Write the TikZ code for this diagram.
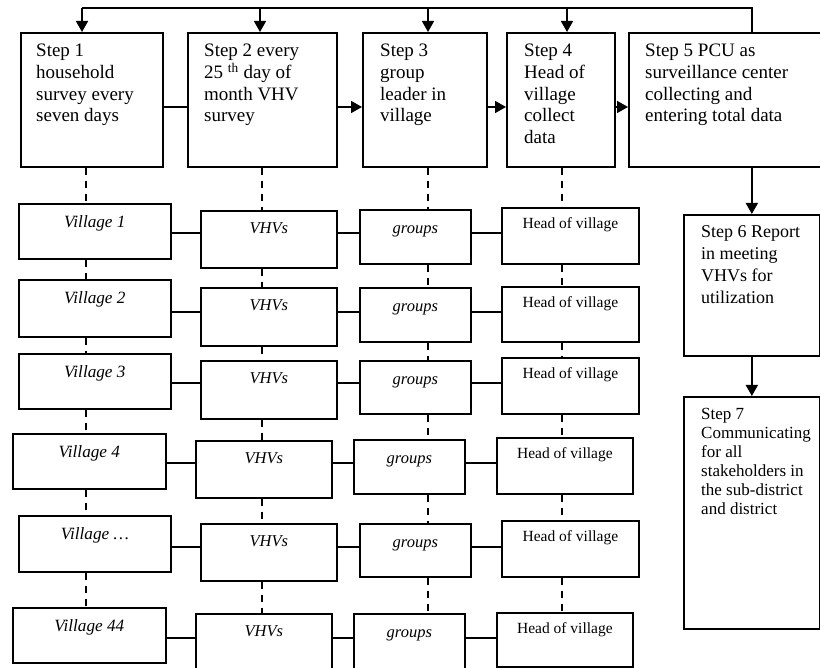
\documentclass[tikz,border=0pt]{standalone}
\usepackage{fontspec}
\setmainfont{Liberation Serif}
\usetikzlibrary{arrows.meta,calc}
\newcommand{\rowbox}[8]{%
  \pgfmathsetmacro{\rbW}{#4-#2}%
  \pgfmathsetmacro{\rbD}{#5-#3-#6}%
  \node[#7, anchor=north west, minimum width=\rbW pt, text height=#6pt, text depth=\rbD pt] (#1) at (#2,#3) {#8};}
\begin{document}
\begin{tikzpicture}[x=1pt,y=-1pt,
  box/.style={draw, line width=1.7pt, inner sep=0pt, rectangle},
  vlab/.style={box, font=\fontsize{16.5}{19}\selectfont\itshape},
  vilab/.style={box, font=\fontsize{17.2}{19}\selectfont\itshape},
  hlab/.style={box, font=\fontsize{15.5}{18}\selectfont},
  steptext/.style={inner sep=0pt, align=left, anchor=north west, font=\fontsize{19}{21.7}\selectfont},
  steptextb/.style={steptext, font=\fontsize{18}{22}\selectfont},
  steptextc/.style={steptext, font=\fontsize{17}{19}\selectfont},
  conn/.style={line width=1.7pt},
  arr/.style={conn, -{Triangle[length=11pt,width=12pt]}},
  dashline/.style={line width=1.7pt, dash pattern=on 7pt off 6pt}]
\useasboundingbox (0,0) rectangle (820,668);
% step boxes
\rowbox{s1}{20}{32}{162}{166}{0}{box}{}
\rowbox{s2}{187}{32}{336}{166}{0}{box}{}
\rowbox{s3}{362}{32}{486}{166}{0}{box}{}
\rowbox{s4}{506}{32}{614}{166}{0}{box}{}
\rowbox{s5}{628}{32}{830}{166}{0}{box}{}
\rowbox{s6}{683}{214}{819}{355}{0}{box}{}
\rowbox{s7}{683}{396}{819}{628}{0}{box}{}
\node[steptext] (s1t) at ($(s1.north west)+(16,12)$) {Step 1\\household\\survey every\\seven days};
\node[steptext] (s2t) at ($(s2.north west)+(17,12)$) {Step 2 every\\25 \textsuperscript{th} day of\\month VHV\\survey};
\node[steptext] (s3t) at ($(s3.north west)+(18,12)$) {Step 3\\group\\leader in\\village};
\node[steptext] (s4t) at ($(s4.north west)+(18,12)$) {Step 4\\Head of\\village\\collect\\data};
\node[steptext] (s5t) at ($(s5.north west)+(17,12)$) {Step 5 PCU as\\surveillance center\\collecting and\\entering total data};
\node[steptextb] (s6t) at ($(s6.north west)+(18,11)$) {Step 6 Report\\in meeting\\VHVs for\\utilization};
\node[steptextc] (s7t) at ($(s7.north west)+(18,12)$) {Step 7\\Communicating\\for all\\stakeholders in\\the sub-district\\and district};
% rows
\rowbox{v1}{18}{203}{170}{258}{24}{vilab}{Village 1}
\rowbox{vh1}{200}{210}{336}{267}{23}{vlab}{VHVs}
\rowbox{g1}{359}{209}{470}{263}{24}{vlab}{groups}
\rowbox{h1}{501}{207}{638}{263}{21}{hlab}{Head of village}
\rowbox{v2}{18}{279}{170}{336}{24}{vilab}{Village 2}
\rowbox{vh2}{200}{287}{336}{345}{23}{vlab}{VHVs}
\rowbox{g2}{359}{287}{470}{341}{24}{vlab}{groups}
\rowbox{h2}{501}{286}{638}{341}{21}{hlab}{Head of village}
\rowbox{v3}{18}{353}{170}{408}{24}{vilab}{Village 3}
\rowbox{vh3}{200}{360}{336}{418}{23}{vlab}{VHVs}
\rowbox{g3}{359}{360}{470}{413}{24}{vlab}{groups}
\rowbox{h3}{501}{357}{638}{413}{21}{hlab}{Head of village}
\rowbox{v4}{12}{433}{165}{488}{24}{vilab}{Village 4}
\rowbox{vh4}{195}{440}{331}{497}{23}{vlab}{VHVs}
\rowbox{g4}{353}{439}{464}{493}{24}{vlab}{groups}
\rowbox{h4}{496}{437}{632}{493}{21}{hlab}{Head of village}
\rowbox{v5}{18}{515}{170}{571}{24}{vilab}{Village \dots}
\rowbox{vh5}{200}{523}{336}{580}{23}{vlab}{VHVs}
\rowbox{g5}{359}{523}{470}{576}{24}{vlab}{groups}
\rowbox{h5}{501}{520}{638}{576}{21}{hlab}{Head of village}
\rowbox{v6}{12}{607}{165}{662}{24}{vilab}{Village 44}
\rowbox{vh6}{195}{613}{331}{680}{23}{vlab}{VHVs}
\rowbox{g6}{353}{613}{464}{680}{24}{vlab}{groups}
\rowbox{h6}{496}{612}{632}{666}{21}{hlab}{Head of village}
% coordinates
\coordinate (t1) at (82,8);
\coordinate (t2) at (260,8);
\coordinate (t3) at (428,8);
\coordinate (t4) at (567,8);
\coordinate (t5) at (752,8);
\coordinate (ry) at (0,107);
\coordinate (cA) at (86,0);
\coordinate (cB) at (262,0);
\coordinate (cC) at (428,0);
\coordinate (cD) at (562,0);
\coordinate (r1) at (0,233);
\coordinate (r2) at (0,312);
\coordinate (r3) at (0,383);
\coordinate (r4) at (0,463);
\coordinate (r5) at (0,547);
\coordinate (r6) at (0,638);
% top feedback line
\draw[conn] (s5.north -| t5) -- (t5) -- (t1);
\draw[arr] (t1) -- (s1.north -| t1);
\draw[arr] (t2) -- (s2.north -| t2);
\draw[arr] (t3) -- (s3.north -| t3);
\draw[arr] (t4) -- (s4.north -| t4);
% step connectors
\draw[conn] (s1.east |- ry) -- (s2.west |- ry);
\draw[arr] (s2.east |- ry) -- (s3.west |- ry);
\draw[arr] (s3.east |- ry) -- (s4.west |- ry);
\draw[arr] (s4.east |- ry) -- (s5.west |- ry);
\draw[arr] (s5.south -| s6.north) -- (s6.north);
\draw[arr] (s6.south) -- (s7.north);
% dashed verticals
\draw[dashline] (s1.south -| cA) -- (v1.north -| cA);
\draw[dashline] (s2.south -| cB) -- (vh1.north -| cB);
\draw[dashline] (s3.south -| cC) -- (g1.north -| cC);
\draw[dashline] (s4.south -| cD) -- (h1.north -| cD);
\foreach \a/\b in {1/2,2/3,3/4,4/5,5/6}{
  \draw[dashline] (v\a.south -| cA) -- (v\b.north -| cA);
  \draw[dashline] (vh\a.south -| cB) -- (vh\b.north -| cB);
  \draw[dashline] (g\a.south -| cC) -- (g\b.north -| cC);
  \draw[dashline] (h\a.south -| cD) -- (h\b.north -| cD);
}
% row connectors
\foreach \i in {1,...,6}{
  \draw[conn] (v\i.east |- r\i) -- (vh\i.west |- r\i);
  \draw[conn] (vh\i.east |- r\i) -- (g\i.west |- r\i);
  \draw[conn] (g\i.east |- r\i) -- (h\i.west |- r\i);
}
\end{tikzpicture}
\end{document}
